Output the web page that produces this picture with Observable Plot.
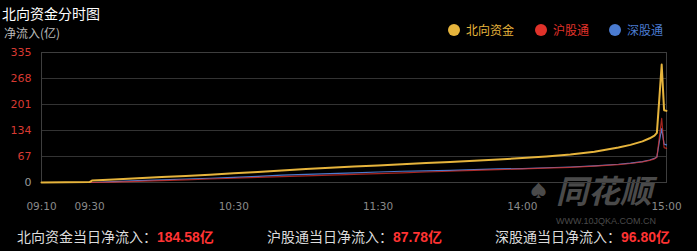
<!DOCTYPE html>
<html><head><meta charset="utf-8">
<script src="https://cdn.jsdelivr.net/npm/d3@7"></script>
<script src="https://cdn.jsdelivr.net/npm/@observablehq/plot@0.6"></script>
<style>
html,body{margin:0;padding:0;background:#000;}
#wrap{position:relative;width:697px;height:251px;overflow:hidden;background:#000;font-family:"Noto Sans CJK SC","Noto Sans",sans-serif;}
.abs{position:absolute;white-space:nowrap;}
#chart{position:absolute;left:0;top:0;z-index:2;}
.wm{color:#4a4a4a;z-index:1;}
.lg{position:absolute;top:22px;font-size:12px;line-height:16px;display:flex;align-items:center;}
.dot{width:12px;height:12px;border-radius:50%;display:inline-block;margin-right:6px;}
.sum{position:absolute;top:227px;font-size:14px;line-height:18px;color:#dcdcdc;}
.val{color:#ff3333;font-weight:bold;font-family:"Liberation Sans",Arial,sans-serif;}
</style></head><body>
<div id="wrap">
  <div class="abs" style="left:2px;top:4px;font-size:14px;line-height:18px;color:#fff;">北向资金分时图</div>
  <div class="abs" style="left:4px;top:25px;font-size:12px;line-height:16px;color:#bbb;">净流入(亿)</div>
  <div id="legend"></div>
  <div class="abs wm" style="left:530px;top:181px;font-size:17px;line-height:17px;">♠</div>
  <div class="abs wm" style="left:556px;top:172px;font-size:32px;line-height:34px;font-style:italic;font-weight:bold;">同花顺</div>
  <div class="abs wm" style="left:556px;top:216px;font-size:9px;line-height:10px;font-family:'Liberation Sans',Arial,sans-serif;">WWW.10JQKA.COM.CN</div>
  <div id="chart"></div>
  <div id="summary"></div>
</div>
<script>
const minuteIdx = [0, 20, 21, 30, 40, 50, 60, 70, 80, 90, 100, 110, 120, 130, 140, 150, 160, 170, 180, 190, 200, 210, 220, 230, 240, 245, 250, 253, 255, 256, 257, 258, 259, 260];
const northFlow = [0, 1, 5, 8, 11, 14, 17, 20, 24, 27, 31, 35, 38, 41, 44, 47, 50, 53, 56, 59, 63, 67, 72, 79, 90, 97, 106, 114, 121, 128, 215, 304, 186, 184.58];
const shFlow    = [0, 0, 0, 1, 3, 5, 7, 9, 11, 13, 15, 17, 19, 21, 23, 25, 27, 29, 31, 33, 35, 37, 39, 42, 46, 49, 53, 57, 61, 65, 115, 165, 90, 87.78];
const szFlow    = [0, 0, 0, 2, 5, 7, 9, 11, 13, 16, 19, 21, 23, 25, 27, 29, 30, 31, 33, 35, 36, 38, 40, 43, 47, 50, 54, 58, 62, 66, 105, 139, 99, 96.80];
const yTicks = [0, 67, 134, 201, 268, 335];
const xTickIdx = [0, 20, 80, 140, 200, 260];
const xTickLabels = ["09:10", "09:30", "10:30", "11:30", "14:00", "15:00"];
const seriesNames = ["北向资金", "沪股通", "深股通"];
const seriesColors = ["#e6b43c", "#e0322a", "#4a7bd0"];
const totalLabels = ["北向资金当日净流入：", "沪股通当日净流入：", "深股通当日净流入："];
const totals = [184.58, 87.78, 96.80];

const rows = [];
[northFlow, shFlow, szFlow].forEach((arr, k) => {
  arr.forEach((v, j) => rows.push({i: minuteIdx[j], v, s: seriesNames[k]}));
});

const plot = Plot.plot({
  width: 697, height: 251,
  marginLeft: 41, marginRight: 31, marginTop: 52, marginBottom: 69,
  style: {background: "transparent", color: "#888", fontFamily: "DejaVu Sans, sans-serif", fontSize: "11px"},
  x: {domain: [0, 260]},
  y: {domain: [0, 335]},
  marks: [
    Plot.gridY(yTicks, {stroke: "#333", strokeOpacity: 1}),
    Plot.frame({stroke: "#3e3e3e"}),
    Plot.axisY(yTicks.filter(d => d > 0), {tickSize: 0, tickPadding: 10, fill: "#d83a32", label: null, fontSize: 11}),
    Plot.axisY([0], {tickSize: 0, tickPadding: 10, fill: "#9a9a9a", label: null, fontSize: 11}),
    Plot.axisX(xTickIdx, {tickSize: 0, tickPadding: 20, fill: "#8a8a8a", label: null, fontSize: 10.5,
      tickFormat: d => xTickLabels[xTickIdx.indexOf(d)]}),
    Plot.line(rows.filter(d => d.s === seriesNames[2]), {x: "i", y: "v", stroke: seriesColors[2], strokeWidth: 1.2}),
    Plot.line(rows.filter(d => d.s === seriesNames[1]), {x: "i", y: "v", stroke: seriesColors[1], strokeWidth: 1.2, strokeOpacity: 0.75}),
    Plot.line(rows.filter(d => d.s === seriesNames[0]), {x: "i", y: "v", stroke: seriesColors[0], strokeWidth: 2})
  ]
});
document.getElementById("chart").appendChild(plot);

const legendX = [448, 535, 609];
const legend = document.getElementById("legend");
seriesNames.forEach((n, k) => {
  const el = document.createElement("div");
  el.className = "lg";
  el.style.left = legendX[k] + "px";
  el.style.color = seriesColors[k];
  el.innerHTML = `<span class="dot" style="background:${seriesColors[k]}"></span>${n}`;
  legend.appendChild(el);
});

const sumX = [17, 267, 495];
const summary = document.getElementById("summary");
totalLabels.forEach((t, k) => {
  const el = document.createElement("div");
  el.className = "sum";
  el.style.left = sumX[k] + "px";
  el.innerHTML = `${t}<span class="val">${totals[k].toFixed(2)}</span><span style="color:#ff3333;font-weight:bold;">亿</span>`;
  summary.appendChild(el);
});
</script>
</body></html>
